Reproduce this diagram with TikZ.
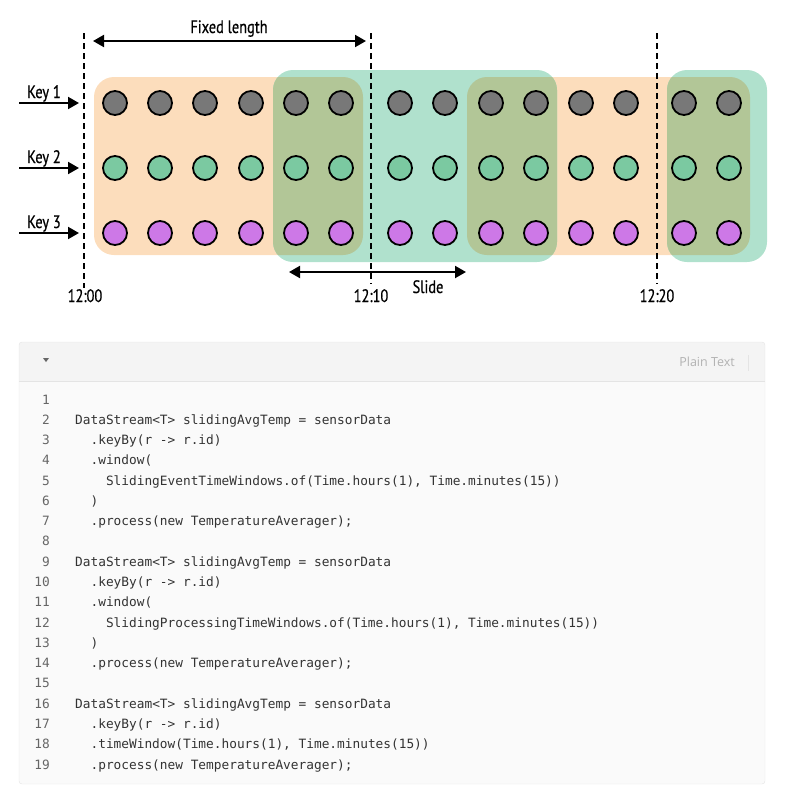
\documentclass[tikz,border=0pt]{standalone}
\usepackage{fontspec}
\usepackage{tikz}
\usetikzlibrary{positioning, arrows.meta, calc}
\newfontfamily\labelfont[FakeStretch=0.8, FakeBold=0.6]{PT Sans}
\newfontfamily\codefont{DejaVu Sans Mono}
\newfontfamily\uifont{Open Sans}
\definecolor{winorange}{HTML}{FCDDBC}
\definecolor{wingreen}{HTML}{B0E1CD}
\definecolor{winolive}{HTML}{B2C697}
\definecolor{evgray}{HTML}{787878}
\definecolor{evgreen}{HTML}{7BC9A1}
\definecolor{evpurple}{HTML}{CD78E7}
\definecolor{codebg}{HTML}{FAFAFA}
\definecolor{codehead}{HTML}{F4F4F4}
\definecolor{codeline}{HTML}{E4E4E4}
\definecolor{codetext}{HTML}{333333}
\definecolor{codenum}{HTML}{666666}
\tikzset{>={Triangle[length=11pt,width=12pt]}}
\tikzset{
  event/.style={circle, draw=black, line width=1.8pt, minimum size=24pt, inner sep=0pt},
  timeline/.style={line width=1.8pt, dash pattern=on 6pt off 4pt},
  lbl/.style={anchor=base, inner sep=1pt, font=\labelfont\fontsize{18}{20}\selectfont},
  codeln/.style={anchor=base west, inner sep=0pt, text=codetext, font=\codefont\fontsize{12.8}{14}\selectfont},
  codeno/.style={anchor=base east, inner sep=0pt, text=codenum, font=\codefont\fontsize{12.8}{14}\selectfont},
}

\begin{document}
\begin{tikzpicture}[x=1pt, y=-1pt]
    \useasboundingbox (0,0) rectangle (809,801);

    % windows
    \fill[winorange, rounded corners=20pt] (94,77) rectangle (363,255);
    \fill[winorange, rounded corners=20pt] (467,77) rectangle (750,255);
    \fill[wingreen, rounded corners=20pt] (273,70) rectangle (557,262);
    \fill[wingreen, rounded corners=20pt] (667,70) rectangle (767,262);
    \begin{scope}
        \clip[rounded corners=20pt] (94,77) rectangle (363,255) (467,77) rectangle (750,255);
        \fill[winolive, rounded corners=20pt] (273,70) rectangle (557,262) (667,70) rectangle (767,262);
    \end{scope}

    % events
    \foreach \x [count=\i] in {115,160,205,251,296,341,400,445,491,536,581,626,684,729} {
        \node[event, fill=evgray] (k1-\i) at (\x,103) {};
        \node[event, fill=evgreen] (k2-\i) at (\x,168) {};
        \node[event, fill=evpurple] (k3-\i) at (\x,233) {};
    }

    % keys
    \foreach \k/\y in {1/103,2/168,3/233} {
        \node[lbl] (key\k) at (44,\y-5) {Key \k};
        \coordinate (key\k-in) at (19,\y);
        \coordinate (key\k-to) at (79,\y);
        \draw[->, line width=2pt] (key\k-in) -- (key\k-to);
    }

    % time marks
    \node[lbl] (t0) at (85,302) {12:00};
    \node[lbl] (t10) at (371,302) {12:10};
    \node[lbl] (t20) at (657,302) {12:20};
    \coordinate (t0-top) at (84,33);
    \coordinate (t10-top) at (371,33);
    \coordinate (t20-top) at (657,33);
    \draw[timeline] (t0-top) -- (t0-top |- t0.north);
    \draw[timeline] (t10-top) -- ($(t10-top |- t10.north)+(0,-4)$);
    \draw[timeline] (t20-top) -- ($(t20-top |- t20.north)+(0,-4)$);

    \coordinate (fixed-l) at (93,41);
    \coordinate (fixed-r) at (366,41);
    \draw[<->, line width=2pt] (fixed-l) -- (fixed-r);
    \node[lbl] (fixed) at (229,33) {Fixed length};

    \coordinate (slide-l) at (289,272);
    \coordinate (slide-r) at (466,272);
    \draw[<->, line width=2pt] (slide-l) -- (slide-r);
    \node[lbl] (slide) at (428,293) {Slide};

    % code block
    \fill[codebg, rounded corners=3pt] (19,342) rectangle (765,784);
    \begin{scope}
        \clip[rounded corners=3pt] (19,342) rectangle (765,784);
        \fill[codehead] (19,342) rectangle (765,381);
    \end{scope}
    \draw[codeline] (19,381) -- (765,381);
    \draw[codeline, rounded corners=3pt] (19,342) rectangle (765,784);
    \fill[codenum] (43,358) -- (49,358) -- (46,362) -- cycle;
    \node[anchor=base east, inner sep=0pt, text=black!30, font=\uifont\fontsize{12.5}{14}\selectfont] (lang) at (735,366.5) {Plain Text};
    \draw[codeline] (748,355) -- (748,371);

    \foreach \n in {1,...,19}
        \node[codeno] (n\n) at (50,{404+20.28*(\n-1)}) {\n};

    \node[codeln] (l2) at (75,424.28) {DataStream<T> slidingAvgTemp = sensorData};
    \node[codeln] (l3) at (90.4,444.56) {.keyBy(r -> r.id)};
    \node[codeln] (l4) at (90.4,464.84) {.window(};
    \node[codeln] (l5) at (105.8,485.12) {SlidingEventTimeWindows.of(Time.hours(1), Time.minutes(15))};
    \node[codeln] (l6) at (90.4,505.4) {)};
    \node[codeln] (l7) at (90.4,525.68) {.process(new TemperatureAverager);};
    \node[codeln] (l9) at (75,566.24) {DataStream<T> slidingAvgTemp = sensorData};
    \node[codeln] (l10) at (90.4,586.52) {.keyBy(r -> r.id)};
    \node[codeln] (l11) at (90.4,606.8) {.window(};
    \node[codeln] (l12) at (105.8,627.08) {SlidingProcessingTimeWindows.of(Time.hours(1), Time.minutes(15))};
    \node[codeln] (l13) at (90.4,647.36) {)};
    \node[codeln] (l14) at (90.4,667.64) {.process(new TemperatureAverager);};
    \node[codeln] (l16) at (75,708.2) {DataStream<T> slidingAvgTemp = sensorData};
    \node[codeln] (l17) at (90.4,728.48) {.keyBy(r -> r.id)};
    \node[codeln] (l18) at (90.4,748.76) {.timeWindow(Time.hours(1), Time.minutes(15))};
    \node[codeln] (l19) at (90.4,769.04) {.process(new TemperatureAverager);};
\end{tikzpicture}
\end{document}
